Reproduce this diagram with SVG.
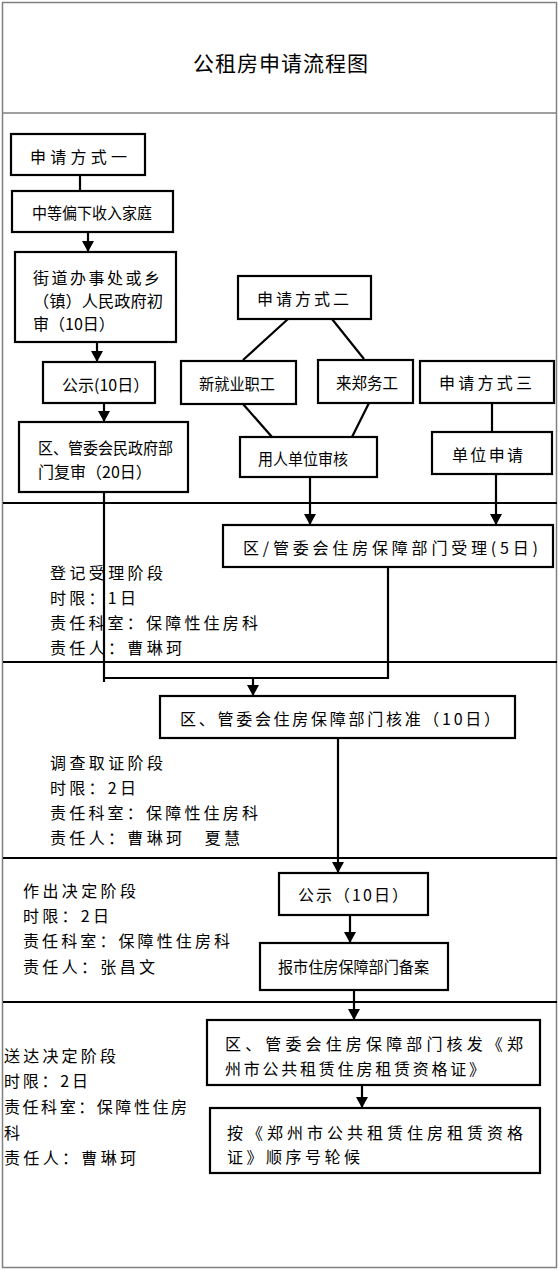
<svg xmlns="http://www.w3.org/2000/svg" width="560" height="1271" viewBox="0 0 560 1271">
<style>
  .box { fill: #fff; stroke: #000; stroke-width: 2.2; }
  .t { font-family: "Noto Sans CJK SC", "Liberation Sans", sans-serif; font-size: 16px; fill: #000; dominant-baseline: central; }
  .title { font-family: "Noto Sans CJK SC", "Liberation Sans", sans-serif; font-size: 21px; fill: #000; dominant-baseline: central; }
  .c { fill: none; stroke: #000; stroke-width: 2.2; }
  .sep { stroke: #000; stroke-width: 2; }
  .frame { fill: none; stroke: #808080; stroke-width: 1.5; }
</style>
<defs>
  <marker id="arr" markerUnits="userSpaceOnUse" markerWidth="12" markerHeight="12" refX="11" refY="6" orient="auto">
    <path d="M0,0 L11,6 L0,12 Z" fill="#000"/>
  </marker>
</defs>
<rect width="560" height="1271" fill="#fff"/>
<g id="frame">
  <rect class="frame" x="2.5" y="2.5" width="554" height="1265"/>
  <line x1="2.5" y1="113" x2="556.5" y2="113" stroke="#808080" stroke-width="1.5"/>
  <line class="sep" x1="3" y1="503" x2="557" y2="503"/>
  <line class="sep" x1="3" y1="662" x2="557" y2="662"/>
  <line class="sep" x1="3" y1="858" x2="557" y2="858"/>
  <line class="sep" x1="3" y1="1002" x2="557" y2="1002"/>
</g>
<g id="title"><text class="title" x="193" y="62" textLength="175" lengthAdjust="spacing">公租房申请流程图</text></g>

<g id="connectors">
  <line class="c" x1="80" y1="175" x2="80" y2="191"/>
  <line class="c" x1="88" y1="232" x2="88" y2="252" marker-end="url(#arr)"/>
  <line class="c" x1="97" y1="342" x2="97" y2="362" marker-end="url(#arr)"/>
  <line class="c" x1="104" y1="403" x2="104" y2="422" marker-end="url(#arr)"/>
  <polyline class="c" points="104,492 104,682"/>
  <polyline class="c" points="104,678 388,678 388,567"/>
  <line class="c" x1="253" y1="678" x2="253" y2="696" marker-end="url(#arr)"/>
  <line class="c" x1="288" y1="319" x2="243" y2="360"/>
  <line class="c" x1="332" y1="319" x2="364" y2="359"/>
  <line class="c" x1="243" y1="404" x2="272" y2="437"/>
  <line class="c" x1="369" y1="403" x2="352" y2="437"/>
  <line class="c" x1="492" y1="403" x2="492" y2="432"/>
  <line class="c" x1="310" y1="477" x2="310" y2="525" marker-end="url(#arr)"/>
  <line class="c" x1="496" y1="474" x2="496" y2="525" marker-end="url(#arr)"/>
  <line class="c" x1="338" y1="738" x2="338" y2="873" marker-end="url(#arr)"/>
  <line class="c" x1="350" y1="915" x2="350" y2="943" marker-end="url(#arr)"/>
  <line class="c" x1="354" y1="990" x2="354" y2="1020" marker-end="url(#arr)"/>
  <line class="c" x1="362" y1="1085" x2="362" y2="1108" marker-end="url(#arr)"/>
</g>

<g id="n1"><rect class="box" x="11" y="134" width="134" height="41"/><text class="t" x="30" y="156" textLength="97" lengthAdjust="spacing">申请方式一</text></g>
<g id="n2"><rect class="box" x="12" y="191" width="161" height="41"/><text class="t" x="32" y="212" textLength="120" lengthAdjust="spacingAndGlyphs">中等偏下收入家庭</text></g>
<g id="n3"><rect class="box" x="15" y="252" width="161" height="90"/>
  <text class="t" x="33" y="277" textLength="127" lengthAdjust="spacing">街道办事处或乡</text>
  <text class="t" x="33" y="300" textLength="130" lengthAdjust="spacingAndGlyphs">（镇）人民政府初</text>
  <text class="t" x="33" y="323">审（10日）</text></g>
<g id="n4"><rect class="box" x="43" y="362" width="112" height="41"/><text class="t" x="62" y="384">公示(10日）</text></g>
<g id="n5"><rect class="box" x="19" y="422" width="169" height="70"/>
  <text class="t" x="38" y="447" textLength="135" lengthAdjust="spacingAndGlyphs">区、管委会民政府部</text>
  <text class="t" x="38" y="471">门复审（20日）</text></g>
<g id="n6"><rect class="box" x="238" y="276" width="133" height="43"/><text class="t" x="257" y="298" textLength="92" lengthAdjust="spacing">申请方式二</text></g>
<g id="n7"><rect class="box" x="181" y="361" width="115" height="43"/><text class="t" x="199" y="383" textLength="76" lengthAdjust="spacingAndGlyphs">新就业职工</text></g>
<g id="n8"><rect class="box" x="318" y="360" width="95" height="43"/><text class="t" x="336" y="382" textLength="62" lengthAdjust="spacingAndGlyphs">来郑务工</text></g>
<g id="n9"><rect class="box" x="420" y="361" width="134" height="42"/><text class="t" x="439" y="382" textLength="93" lengthAdjust="spacing">申请方式三</text></g>
<g id="n10"><rect class="box" x="240" y="437" width="137" height="40"/><text class="t" x="258" y="458" textLength="90" lengthAdjust="spacingAndGlyphs">用人单位审核</text></g>
<g id="n11"><rect class="box" x="432" y="432" width="120" height="42"/><text class="t" x="452" y="454" textLength="71" lengthAdjust="spacing">单位申请</text></g>
<g id="n12"><rect class="box" x="223" y="525" width="330" height="42"/><text class="t" x="243" y="547" textLength="295" lengthAdjust="spacing">区/管委会住房保障部门受理(5日)</text></g>
<g id="n13"><rect class="box" x="160" y="696" width="355" height="42"/><text class="t" x="180" y="718" textLength="320" lengthAdjust="spacing">区、管委会住房保障部门核准（10日）</text></g>
<g id="n14"><rect class="box" x="279" y="873" width="149" height="42"/><text class="t" x="298" y="894" textLength="110" lengthAdjust="spacing">公示（10日）</text></g>
<g id="n15"><rect class="box" x="260" y="943" width="188" height="47"/><text class="t" x="278" y="966" textLength="151" lengthAdjust="spacingAndGlyphs">报市住房保障部门备案</text></g>
<g id="n16"><rect class="box" x="207" y="1020" width="333" height="65"/>
  <text class="t" x="225" y="1043" textLength="298" lengthAdjust="spacing">区、管委会住房保障部门核发《郑</text>
  <text class="t" x="225" y="1068" textLength="260" lengthAdjust="spacing">州市公共租赁住房租赁资格证》</text></g>
<g id="n17"><rect class="box" x="210" y="1108" width="330" height="65"/>
  <text class="t" x="227" y="1132" textLength="296" lengthAdjust="spacing">按《郑州市公共租赁住房租赁资格</text>
  <text class="t" x="227" y="1156" textLength="133" lengthAdjust="spacing">证》顺序号轮候</text></g>

<g id="stage1">
  <text class="t" x="50" y="572" textLength="113" lengthAdjust="spacing">登记受理阶段</text>
  <text class="t" x="50" y="597" textLength="86" lengthAdjust="spacing">时限：1日</text>
  <text class="t" x="50" y="622" textLength="208" lengthAdjust="spacing">责任科室：保障性住房科</text>
  <text class="t" x="50" y="647" textLength="132" lengthAdjust="spacing">责任人：曹琳珂</text>
</g>
<g id="stage2">
  <text class="t" x="50" y="762" textLength="113" lengthAdjust="spacing">调查取证阶段</text>
  <text class="t" x="50" y="787" textLength="86" lengthAdjust="spacing">时限：2日</text>
  <text class="t" x="50" y="812" textLength="208" lengthAdjust="spacing">责任科室：保障性住房科</text>
  <text class="t" x="50" y="837" textLength="190" lengthAdjust="spacing">责任人：曹琳珂　夏慧</text>
</g>
<g id="stage3">
  <text class="t" x="23" y="890" textLength="113" lengthAdjust="spacing">作出决定阶段</text>
  <text class="t" x="23" y="915" textLength="86" lengthAdjust="spacing">时限：2日</text>
  <text class="t" x="23" y="940" textLength="207" lengthAdjust="spacing">责任科室：保障性住房科</text>
  <text class="t" x="23" y="966" textLength="132" lengthAdjust="spacing">责任人：张昌文</text>
</g>
<g id="stage4">
  <text class="t" x="4" y="1055" textLength="112" lengthAdjust="spacing">送达决定阶段</text>
  <text class="t" x="4" y="1080" textLength="84" lengthAdjust="spacing">时限：2日</text>
  <text class="t" x="4" y="1106" textLength="183" lengthAdjust="spacing">责任科室：保障性住房</text>
  <text class="t" x="4" y="1132">科</text>
  <text class="t" x="4" y="1157" textLength="132" lengthAdjust="spacing">责任人：曹琳珂</text>
</g>
</svg>
